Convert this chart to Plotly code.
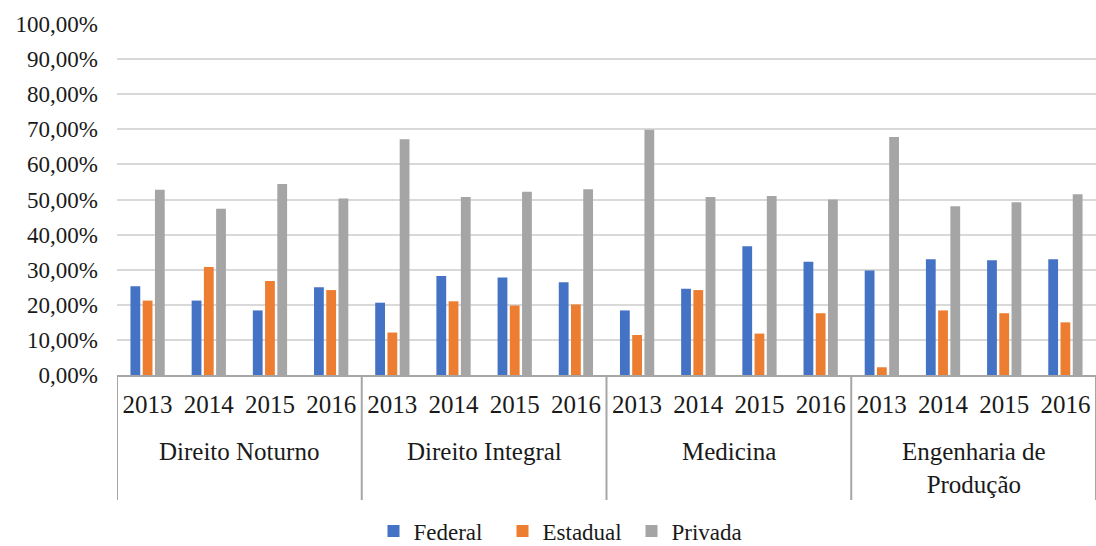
import plotly.graph_objects as go

groups = ["Direito Noturno", "Direito Integral", "Medicina", "Engenharia de<br>Produção"]
years = ["2013", "2014", "2015", "2016"]
federal = [0.253, 0.212, 0.184, 0.250,
           0.206, 0.282, 0.278, 0.264,
           0.184, 0.246, 0.367, 0.323,
           0.298, 0.330, 0.327, 0.330]
estadual = [0.212, 0.308, 0.268, 0.242,
            0.121, 0.210, 0.198, 0.201,
            0.114, 0.242, 0.118, 0.176,
            0.022, 0.184, 0.176, 0.150]
privada = [0.528, 0.474, 0.544, 0.503,
           0.672, 0.507, 0.522, 0.529,
           0.699, 0.507, 0.510, 0.500,
           0.678, 0.481, 0.492, 0.515]
series_names = ["Federal", "Estadual", "Privada"]
colors = ["#4472C4", "#ED7D31", "#A5A5A5"]

n_years = len(years)
xpos = list(range(len(groups) * n_years))
ticktext = [y for _ in groups for y in years]

W, H = 1096, 546
ml, mr, mt, mb = 117, 0, 24, 171
plot_h = H - mt - mb


def py_to_paper(py):
    return (H - mb - py) / plot_h


FONT = "Liberation Serif"
TXT = "#1a1a1a"
LINE = "#A6A6A6"

fig = go.Figure()
for name, vals, c in zip(series_names, [federal, estadual, privada], colors):
    fig.add_trace(go.Bar(x=xpos, y=vals, name=name, marker=dict(color=c, line=dict(width=0))))

shapes = []
for i in range(len(groups) + 1):
    xv = i * n_years - 0.5
    shapes.append(dict(type="line", xref="x", yref="paper", x0=xv, x1=xv,
                       y0=0, y1=py_to_paper(500), line=dict(color=LINE, width=2)))

annotations = []
for i, g in enumerate(groups):
    annotations.append(dict(x=i * n_years + (n_years - 1) / 2, xref="x",
                            y=py_to_paper(436), yref="paper", yanchor="top",
                            text=g, showarrow=False,
                            font=dict(family=FONT, size=25, color=TXT)))

fig.update_layout(
    width=W, height=H,
    margin=dict(l=ml, r=mr, t=mt, b=mb, autoexpand=False),
    paper_bgcolor="white", plot_bgcolor="white",
    barmode="group", bargap=0.4, bargroupgap=0.2,
    separators=",.",
    font=dict(family=FONT, color=TXT),
    shapes=shapes, annotations=annotations,
    legend=dict(orientation="h", x=(567 - ml) / (W - ml - mr), xanchor="center",
                y=py_to_paper(531), yanchor="middle",
                font=dict(family=FONT, size=23, color=TXT), itemwidth=30,
                entrywidth=84, entrywidthmode="pixels",
                traceorder="normal"),
)
fig.update_xaxes(
    range=[-0.5, len(xpos) - 0.5], tickmode="array", tickvals=xpos, ticktext=ticktext,
    tickfont=dict(family=FONT, size=25, color=TXT), showgrid=False,
    showline=True, linecolor=LINE, linewidth=2, ticks="", ticklabelstandoff=6,
)
fig.update_yaxes(
    range=[0, 1.0], dtick=0.1, tickformat=".2%",
    tickfont=dict(family=FONT, size=23, color=TXT),
    showgrid=True, gridcolor="#D9D9D9", gridwidth=2, zeroline=False,
    showline=False, ticks="", ticklabelstandoff=18,
)

fig.write_html("out.html")
